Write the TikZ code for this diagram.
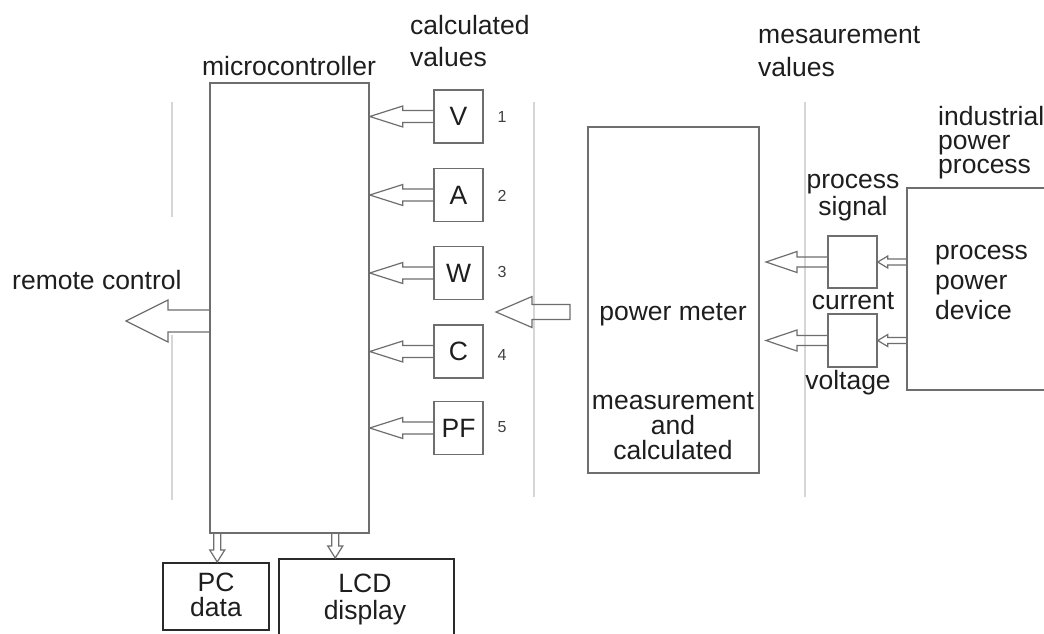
\documentclass[tikz,border=0pt]{standalone}
\usepackage{fontspec}
\setmainfont{Liberation Sans}
\usetikzlibrary{calc}
\definecolor{boxgray}{HTML}{6E6E6E}
\definecolor{guide}{HTML}{D6D6D6}
\definecolor{txt}{HTML}{1E1E1E}
\definecolor{darkbox}{HTML}{2A2A2A}
% leftward hollow block arrow: #1 tail point, #2 tip point, #3 shaft half, #4 head half, #5 head length
\newcommand{\hblk}[5]{\draw[blk] let \p1=(#1), \p2=(#2) in (\x1,\y1+#3) -- (\x2+#5,\y1+#3) -- (\x2+#5,\y1+#4) -- (\x2,\y1) -- (\x2+#5,\y1-#4) -- (\x2+#5,\y1-#3) -- (\x1,\y1-#3);}
\newcommand{\hblkc}[5]{\draw[blk] let \p1=(#1), \p2=(#2) in (\x1,\y1+#3) -- (\x2+#5,\y1+#3) -- (\x2+#5,\y1+#4) -- (\x2,\y1) -- (\x2+#5,\y1-#4) -- (\x2+#5,\y1-#3) -- (\x1,\y1-#3) -- cycle;}
% downward hollow block arrow
\newcommand{\vblk}[5]{\draw[blk] let \p1=(#1), \p2=(#2) in (\x1+#3,\y1) -- (\x1+#3,\y2+#5) -- (\x1+#4,\y2+#5) -- (\x1,\y2) -- (\x1-#4,\y2+#5) -- (\x1-#3,\y2+#5) -- (\x1-#3,\y1);}
\tikzset{
  blk/.style={draw=boxgray, line width=1.2pt, line join=miter},
  gbox/.style={draw=boxgray, line width=1.5pt, inner sep=0pt},
  valbox/.style={gbox, minimum width=49pt, minimum height=53pt, font=\fontsize{26.5pt}{30pt}\selectfont, text=txt},
  dbox/.style={draw=darkbox, line width=2pt, inner sep=0pt},
  lbl/.style={font=\fontsize{26.5pt}{30pt}\selectfont, text=txt, inner sep=0pt},
  num/.style={font=\fontsize{16pt}{18pt}\selectfont, text=txt!85, inner sep=0pt},
  guideline/.style={draw=guide, line width=1.5pt},
}
\begin{document}
\begin{tikzpicture}[x=1pt,y=-1pt]
\useasboundingbox (0,0) rectangle (1044,633);
\fill[white] (0,0) rectangle (1044,633);

% guide lines
\draw[guideline] (172,102) -- (172,217);
\draw[guideline] (172,335) -- (172,500);
\draw[guideline] (534,102) -- (534,497);
\draw[guideline] (805,102) -- (805,497);

% main boxes
\node[gbox, minimum width=159pt, minimum height=450pt] (mc) at (289.5,308) {};
\node[gbox, minimum width=171pt, minimum height=346pt] (pm) at (673.5,300) {};
\node[gbox, minimum width=140pt, minimum height=202pt] (dev) at (977,289) {};

% value boxes
\node[valbox] (V) at (458.5,116.5) {V};
\node[valbox] (A) at (458.5,195) {A};
\node[valbox] (W) at (458.5,273) {W};
\node[valbox] (C) at (458.5,351.5) {C};
\node[valbox] (PF) at (458.5,428) {PF};

% numbers
\node[num] (n1) at (502,117) {1};
\node[num] (n2) at (502,196) {2};
\node[num] (n3) at (502,272) {3};
\node[num] (n4) at (502,355) {4};
\node[num] (n5) at (502,427) {5};

% signal boxes
\node[gbox, minimum width=49pt, minimum height=52pt] (cur) at (852.5,262) {};
\node[gbox, minimum width=49pt, minimum height=53pt] (vol) at (852.5,340.5) {};

% output boxes
\node[dbox, minimum width=106pt, minimum height=67pt] (pc) at (216,596.5) {};
\node[dbox, minimum width=175pt, minimum height=104pt] (lcd) at (366.5,611) {};

% labels
\node[lbl] (lmc) at (289,66) {microcontroller};
\node[lbl, align=left, anchor=west, font=\fontsize{26.5pt}{32pt}\selectfont] (lcalc) at (410,41) {calculated\\values};
\node[lbl, align=left, anchor=west, font=\fontsize{26.5pt}{33pt}\selectfont] (lmeas) at (758,52) {mesaurement\\values};
\node[lbl, anchor=west] (lrc) at (12,280) {remote control};
\node[lbl] (lpm) at (673,315) {power meter};
\node[lbl, align=center, font=\fontsize{26.5pt}{25pt}\selectfont] (lmac) at (673,426) {measurement\\and\\calculated};
\node[lbl, align=center, font=\fontsize{26.5pt}{27pt}\selectfont] (lps) at (853,198) {process\\signal};
\node[lbl] (lcur) at (853,301) {current};
\node[lbl] (lvol) at (848,383) {voltage};
\node[lbl, align=left, anchor=west, font=\fontsize{26.5pt}{24pt}\selectfont] (lind) at (938,143) {industrial\\power\\process};
\node[lbl, align=left, anchor=west, font=\fontsize{26.5pt}{30pt}\selectfont] (ldev) at (935,282) {process\\power\\device};
\node[lbl, align=center, font=\fontsize{26.5pt}{25pt}\selectfont] (lpc) at (216,595) {PC\\data};
\node[lbl, align=center, font=\fontsize{26.5pt}{27pt}\selectfont] (llcd) at (365,599) {LCD\\display};

% free arrow ends
\coordinate (rc) at (126,321);
\coordinate (pmA) at (570,312);
\coordinate (pmT) at (496,312);
\coordinate (curT) at (766,262);
\coordinate (volT) at (766,340.5);

% arrows into microcontroller
\hblk{V.west}{mc.east |- V.west}{6pt}{10.5pt}{33pt}
\hblk{A.west}{mc.east |- A.west}{6pt}{10.5pt}{33pt}
\hblk{W.west}{mc.east |- W.west}{6pt}{10.5pt}{33pt}
\hblk{C.west}{mc.east |- C.west}{6pt}{10.5pt}{33pt}
\hblk{PF.west}{mc.east |- PF.west}{6pt}{10.5pt}{33pt}

% remote control
\hblk{mc.west |- rc}{rc}{11pt}{21pt}{42pt}

% power meter output
\hblkc{pmA}{pmT}{7.5pt}{15.5pt}{36pt}

% signal boxes to power meter
\hblk{cur.west}{curT}{5pt}{10.5pt}{31pt}
\hblk{vol.west}{volT}{5pt}{10.5pt}{31pt}

% device to signal boxes
\hblk{dev.west |- cur.east}{cur.east}{3pt}{6pt}{10pt}
\hblk{dev.west |- vol.east}{vol.east}{3pt}{6pt}{10pt}

% down arrows
\vblk{$(mc.south west)+(8,0)$}{pc.north}{3.5pt}{7.5pt}{12pt}
\vblk{$(mc.south west)+(126,0)$}{lcd.north}{3.5pt}{7.5pt}{12pt}
\end{tikzpicture}
\end{document}
